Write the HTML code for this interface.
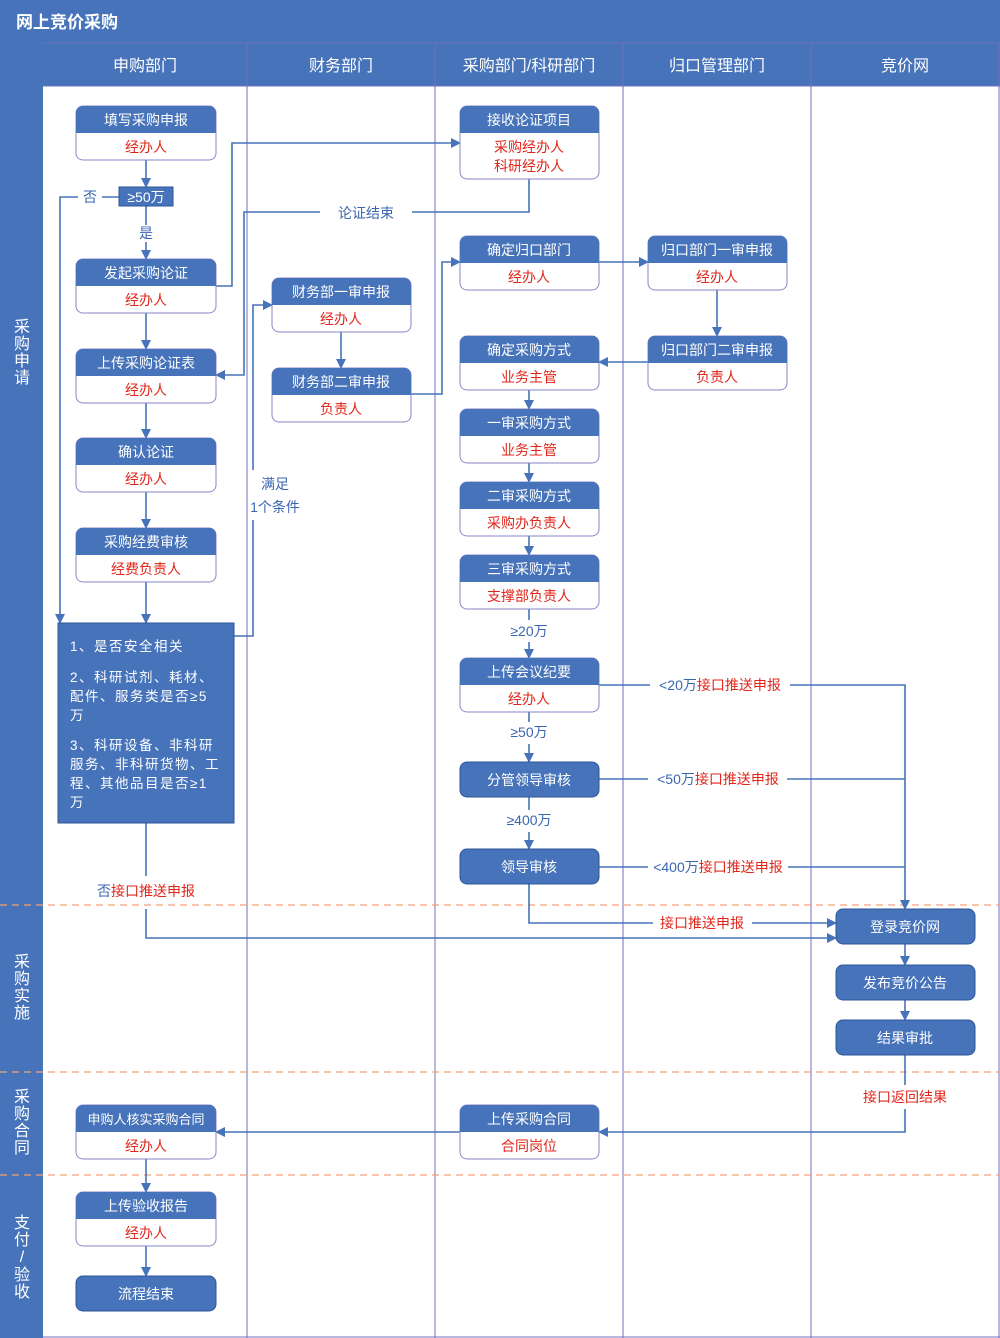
<!DOCTYPE html>
<html><head><meta charset="utf-8"><style>
html,body{margin:0;padding:0;background:#fff}
svg{display:block}
text{font-family:"Liberation Sans","Noto Sans CJK SC",sans-serif}
</style></head><body>
<svg width="1000" height="1338" viewBox="0 0 1000 1338" xmlns="http://www.w3.org/2000/svg">
<defs>
<marker id="a" markerWidth="10" markerHeight="10" refX="9" refY="5" orient="auto" markerUnits="userSpaceOnUse"><path d="M0,0 L10,5 L0,10 z" fill="#4673b9"/></marker>
</defs>
<rect x="0" y="0" width="1000" height="1338" fill="#fff"/>
<rect x="0" y="0" width="1000" height="43" fill="#4673b9"/>
<text x="16" y="28" font-size="17" font-weight="bold" fill="#fff">网上竞价采购</text>
<rect x="0" y="43" width="1000" height="43" fill="#4673b9"/>
<rect x="0" y="43" width="43" height="1295" fill="#4673b9"/>
<g stroke="#6f6fbf" stroke-width="1">
<line x1="43" y1="43" x2="1000" y2="43"/><line x1="43" y1="86" x2="1000" y2="86"/>
<line x1="247" y1="43" x2="247" y2="1338"/><line x1="435" y1="43" x2="435" y2="1338"/>
<line x1="623" y1="43" x2="623" y2="1338"/><line x1="811" y1="43" x2="811" y2="1338"/>
<line x1="999" y1="43" x2="999" y2="1338"/><line x1="43" y1="1337" x2="1000" y2="1337"/>
</g>
<g font-size="16" fill="#fff" text-anchor="middle">
<text x="145" y="71">申购部门</text><text x="341" y="71">财务部门</text><text x="529" y="71">采购部门/科研部门</text><text x="717" y="71">归口管理部门</text><text x="905" y="71">竞价网</text>
</g>
<g stroke="#f4a07a" stroke-width="1.2" stroke-dasharray="7,5">
<line x1="0" y1="905" x2="1000" y2="905"/><line x1="0" y1="1072" x2="1000" y2="1072"/><line x1="0" y1="1175" x2="1000" y2="1175"/>
</g>
<g font-size="16" fill="#fff" text-anchor="middle">
<text x="22" y="332">采</text><text x="22" y="349">购</text><text x="22" y="366">申</text><text x="22" y="383">请</text>
<text x="22" y="967">采</text><text x="22" y="984">购</text><text x="22" y="1001">实</text><text x="22" y="1018">施</text>
<text x="22" y="1102">采</text><text x="22" y="1119">购</text><text x="22" y="1136">合</text><text x="22" y="1153">同</text>
<text x="22" y="1228">支</text><text x="22" y="1245">付</text><text x="22" y="1262">/</text><text x="22" y="1280">验</text><text x="22" y="1297">收</text>
</g>

<!-- connectors -->
<g stroke="#4673b9" stroke-width="1.6" fill="none">
<line x1="146" y1="160" x2="146" y2="187" marker-end="url(#a)"/>
<polyline points="119,197 102,197"/><polyline points="78,197 60,197 60,623" marker-end="url(#a)"/>
<line x1="146" y1="206" x2="146" y2="225"/><line x1="146" y1="242" x2="146" y2="259" marker-end="url(#a)"/>
<polyline points="216,286 232,286 232,143 460,143" marker-end="url(#a)"/>
<polyline points="529,179 529,212 412,212"/><polyline points="320,212 244,212 244,375 216,375" marker-end="url(#a)"/>
<line x1="146" y1="313" x2="146" y2="349" marker-end="url(#a)"/>
<line x1="146" y1="403" x2="146" y2="438" marker-end="url(#a)"/>
<line x1="146" y1="492" x2="146" y2="528" marker-end="url(#a)"/>
<line x1="146" y1="582" x2="146" y2="623" marker-end="url(#a)"/>
<polyline points="234,636 253,636 253,520"/><polyline points="253,470 253,305 272,305" marker-end="url(#a)"/>
<line x1="341" y1="332" x2="341" y2="368" marker-end="url(#a)"/>
<polyline points="411,394 442,394 442,262 460,262" marker-end="url(#a)"/>
<line x1="599" y1="262" x2="648" y2="262" marker-end="url(#a)"/>
<line x1="717" y1="290" x2="717" y2="336" marker-end="url(#a)"/>
<line x1="648" y1="362" x2="599" y2="362" marker-end="url(#a)"/>
<line x1="529" y1="390" x2="529" y2="409" marker-end="url(#a)"/>
<line x1="529" y1="463" x2="529" y2="482" marker-end="url(#a)"/>
<line x1="529" y1="536" x2="529" y2="555" marker-end="url(#a)"/>
<line x1="529" y1="609" x2="529" y2="620"/><line x1="529" y1="642" x2="529" y2="658" marker-end="url(#a)"/>
<line x1="529" y1="712" x2="529" y2="722"/><line x1="529" y1="744" x2="529" y2="762" marker-end="url(#a)"/>
<line x1="529" y1="797" x2="529" y2="810"/><line x1="529" y1="832" x2="529" y2="849" marker-end="url(#a)"/>
<polyline points="599,685 650,685"/><polyline points="790,685 905,685 905,909" marker-end="url(#a)"/>
<polyline points="599,779 648,779"/><polyline points="787,779 905,779"/>
<polyline points="599,867 648,867"/><polyline points="788,867 905,867"/>
<polyline points="529,884 529,923 653,923"/><line x1="752" y1="923" x2="836" y2="923" marker-end="url(#a)"/>
<polyline points="146,823 146,876"/><polyline points="146,909 146,938 836,938" marker-end="url(#a)"/>
<line x1="905" y1="944" x2="905" y2="965" marker-end="url(#a)"/>
<line x1="905" y1="1000" x2="905" y2="1020" marker-end="url(#a)"/>
<polyline points="905,1055 905,1085"/><polyline points="905,1109 905,1132 599,1132" marker-end="url(#a)"/>
<line x1="460" y1="1132" x2="216" y2="1132" marker-end="url(#a)"/>
<line x1="146" y1="1159" x2="146" y2="1192" marker-end="url(#a)"/>
<line x1="146" y1="1246" x2="146" y2="1276" marker-end="url(#a)"/>
</g>

<!-- labels -->
<g font-size="14" fill="#3a66b0" text-anchor="middle">
<text x="90" y="202">否</text><text x="146" y="238">是</text>
<text x="366" y="218">论证结束</text>
<text x="275" y="489">满足</text><text x="275" y="512">1个条件</text>
<text x="529" y="636">≥20万</text><text x="529" y="737">≥50万</text><text x="529" y="825">≥400万</text>
</g>
<g font-size="14" text-anchor="middle">
<text x="720" y="690"><tspan fill="#3a66b0">&lt;20万</tspan><tspan fill="#e0261b">接口推送申报</tspan></text>
<text x="718" y="784"><tspan fill="#3a66b0">&lt;50万</tspan><tspan fill="#e0261b">接口推送申报</tspan></text>
<text x="718" y="872"><tspan fill="#3a66b0">&lt;400万</tspan><tspan fill="#e0261b">接口推送申报</tspan></text>
<text x="702" y="928" fill="#e0261b">接口推送申报</text>
<text x="146" y="896"><tspan fill="#3a66b0">否</tspan><tspan fill="#e0261b">接口推送申报</tspan></text>
<text x="905" y="1102" fill="#e0261b">接口返回结果</text>
</g>

<!-- 50万 decision -->
<rect x="119" y="187" width="54" height="19" fill="#4673b9" stroke="#2f5597" stroke-width="1"/>
<text x="146" y="202" font-size="14" fill="#fff" text-anchor="middle">≥50万</text>

<!-- two-part boxes -->
<g font-size="14" text-anchor="middle">
<!-- template: outer rounded rect, header -->
<g>
<rect x="76" y="106" width="140" height="54" rx="7" fill="#fff" stroke="#8a86c8"/><path d="M76,133 V113 a7,7 0 0 1 7,-7 H209 a7,7 0 0 1 7,7 V133 z" fill="#4673b9"/>
<text x="146" y="125" fill="#fff">填写采购申报</text><text x="146" y="152" fill="#e0261b">经办人</text>
</g>
<g>
<rect x="76" y="259" width="140" height="54" rx="7" fill="#fff" stroke="#8a86c8"/><path d="M76,286 V266 a7,7 0 0 1 7,-7 H209 a7,7 0 0 1 7,7 V286 z" fill="#4673b9"/>
<text x="146" y="278" fill="#fff">发起采购论证</text><text x="146" y="305" fill="#e0261b">经办人</text>
</g>
<g>
<rect x="76" y="349" width="140" height="54" rx="7" fill="#fff" stroke="#8a86c8"/><path d="M76,376 V356 a7,7 0 0 1 7,-7 H209 a7,7 0 0 1 7,7 V376 z" fill="#4673b9"/>
<text x="146" y="368" fill="#fff">上传采购论证表</text><text x="146" y="395" fill="#e0261b">经办人</text>
</g>
<g>
<rect x="76" y="438" width="140" height="54" rx="7" fill="#fff" stroke="#8a86c8"/><path d="M76,465 V445 a7,7 0 0 1 7,-7 H209 a7,7 0 0 1 7,7 V465 z" fill="#4673b9"/>
<text x="146" y="457" fill="#fff">确认论证</text><text x="146" y="484" fill="#e0261b">经办人</text>
</g>
<g>
<rect x="76" y="528" width="140" height="54" rx="7" fill="#fff" stroke="#8a86c8"/><path d="M76,555 V535 a7,7 0 0 1 7,-7 H209 a7,7 0 0 1 7,7 V555 z" fill="#4673b9"/>
<text x="146" y="547" fill="#fff">采购经费审核</text><text x="146" y="574" fill="#e0261b">经费负责人</text>
</g>
<g>
<rect x="76" y="1105" width="140" height="54" rx="7" fill="#fff" stroke="#8a86c8"/><path d="M76,1132 V1112 a7,7 0 0 1 7,-7 H209 a7,7 0 0 1 7,7 V1132 z" fill="#4673b9"/>
<text x="146" y="1124" fill="#fff" font-size="13">申购人核实采购合同</text><text x="146" y="1151" fill="#e0261b">经办人</text>
</g>
<g>
<rect x="76" y="1192" width="140" height="54" rx="7" fill="#fff" stroke="#8a86c8"/><path d="M76,1219 V1199 a7,7 0 0 1 7,-7 H209 a7,7 0 0 1 7,7 V1219 z" fill="#4673b9"/>
<text x="146" y="1211" fill="#fff">上传验收报告</text><text x="146" y="1238" fill="#e0261b">经办人</text>
</g>
<rect x="76" y="1276" width="140" height="35" rx="7" fill="#4673b9" stroke="#2f5597"/>
<text x="146" y="1299" fill="#fff">流程结束</text>

<!-- col2 -->
<g>
<rect x="272" y="278" width="139" height="54" rx="7" fill="#fff" stroke="#8a86c8"/><path d="M272,305 V285 a7,7 0 0 1 7,-7 H404 a7,7 0 0 1 7,7 V305 z" fill="#4673b9"/>
<text x="341" y="297" fill="#fff">财务部一审申报</text><text x="341" y="324" fill="#e0261b">经办人</text>
</g>
<g>
<rect x="272" y="368" width="139" height="54" rx="7" fill="#fff" stroke="#8a86c8"/><path d="M272,395 V375 a7,7 0 0 1 7,-7 H404 a7,7 0 0 1 7,7 V395 z" fill="#4673b9"/>
<text x="341" y="387" fill="#fff">财务部二审申报</text><text x="341" y="414" fill="#e0261b">负责人</text>
</g>

<!-- col3 -->
<g>
<rect x="460" y="106" width="139" height="73" rx="7" fill="#fff" stroke="#8a86c8"/><path d="M460,133 V113 a7,7 0 0 1 7,-7 H592 a7,7 0 0 1 7,7 V133 z" fill="#4673b9"/>
<text x="529" y="125" fill="#fff">接收论证项目</text><text x="529" y="152" fill="#e0261b">采购经办人</text><text x="529" y="171" fill="#e0261b">科研经办人</text>
</g>
<g>
<rect x="460" y="236" width="139" height="54" rx="7" fill="#fff" stroke="#8a86c8"/><path d="M460,263 V243 a7,7 0 0 1 7,-7 H592 a7,7 0 0 1 7,7 V263 z" fill="#4673b9"/>
<text x="529" y="255" fill="#fff">确定归口部门</text><text x="529" y="282" fill="#e0261b">经办人</text>
</g>
<g>
<rect x="460" y="336" width="139" height="54" rx="7" fill="#fff" stroke="#8a86c8"/><path d="M460,363 V343 a7,7 0 0 1 7,-7 H592 a7,7 0 0 1 7,7 V363 z" fill="#4673b9"/>
<text x="529" y="355" fill="#fff">确定采购方式</text><text x="529" y="382" fill="#e0261b">业务主管</text>
</g>
<g>
<rect x="460" y="409" width="139" height="54" rx="7" fill="#fff" stroke="#8a86c8"/><path d="M460,436 V416 a7,7 0 0 1 7,-7 H592 a7,7 0 0 1 7,7 V436 z" fill="#4673b9"/>
<text x="529" y="428" fill="#fff">一审采购方式</text><text x="529" y="455" fill="#e0261b">业务主管</text>
</g>
<g>
<rect x="460" y="482" width="139" height="54" rx="7" fill="#fff" stroke="#8a86c8"/><path d="M460,509 V489 a7,7 0 0 1 7,-7 H592 a7,7 0 0 1 7,7 V509 z" fill="#4673b9"/>
<text x="529" y="501" fill="#fff">二审采购方式</text><text x="529" y="528" fill="#e0261b">采购办负责人</text>
</g>
<g>
<rect x="460" y="555" width="139" height="54" rx="7" fill="#fff" stroke="#8a86c8"/><path d="M460,582 V562 a7,7 0 0 1 7,-7 H592 a7,7 0 0 1 7,7 V582 z" fill="#4673b9"/>
<text x="529" y="574" fill="#fff">三审采购方式</text><text x="529" y="601" fill="#e0261b">支撑部负责人</text>
</g>
<g>
<rect x="460" y="658" width="139" height="54" rx="7" fill="#fff" stroke="#8a86c8"/><path d="M460,685 V665 a7,7 0 0 1 7,-7 H592 a7,7 0 0 1 7,7 V685 z" fill="#4673b9"/>
<text x="529" y="677" fill="#fff">上传会议纪要</text><text x="529" y="704" fill="#e0261b">经办人</text>
</g>
<rect x="460" y="762" width="139" height="35" rx="7" fill="#4673b9" stroke="#2f5597"/>
<text x="529" y="785" fill="#fff">分管领导审核</text>
<rect x="460" y="849" width="139" height="35" rx="7" fill="#4673b9" stroke="#2f5597"/>
<text x="529" y="872" fill="#fff">领导审核</text>
<g>
<rect x="460" y="1105" width="139" height="54" rx="7" fill="#fff" stroke="#8a86c8"/><path d="M460,1132 V1112 a7,7 0 0 1 7,-7 H592 a7,7 0 0 1 7,7 V1132 z" fill="#4673b9"/>
<text x="529" y="1124" fill="#fff">上传采购合同</text><text x="529" y="1151" fill="#e0261b">合同岗位</text>
</g>

<!-- col4 -->
<g>
<rect x="648" y="236" width="139" height="54" rx="7" fill="#fff" stroke="#8a86c8"/><path d="M648,263 V243 a7,7 0 0 1 7,-7 H780 a7,7 0 0 1 7,7 V263 z" fill="#4673b9"/>
<text x="717" y="255" fill="#fff">归口部门一审申报</text><text x="717" y="282" fill="#e0261b">经办人</text>
</g>
<g>
<rect x="648" y="336" width="139" height="54" rx="7" fill="#fff" stroke="#8a86c8"/><path d="M648,363 V343 a7,7 0 0 1 7,-7 H780 a7,7 0 0 1 7,7 V363 z" fill="#4673b9"/>
<text x="717" y="355" fill="#fff">归口部门二审申报</text><text x="717" y="382" fill="#e0261b">负责人</text>
</g>

<!-- col5 -->
<rect x="836" y="909" width="139" height="35" rx="7" fill="#4673b9" stroke="#2f5597"/>
<text x="905" y="932" fill="#fff">登录竞价网</text>
<rect x="836" y="965" width="139" height="35" rx="7" fill="#4673b9" stroke="#2f5597"/>
<text x="905" y="988" fill="#fff">发布竞价公告</text>
<rect x="836" y="1020" width="139" height="35" rx="7" fill="#4673b9" stroke="#2f5597"/>
<text x="905" y="1043" fill="#fff">结果审批</text>
</g>

<!-- big condition box -->
<rect x="58" y="623" width="176" height="200" fill="#4673b9" stroke="#2f5597"/>
<g font-size="13.5" fill="#fff" letter-spacing="1.5">
<text x="70" y="651">1、是否安全相关</text>
<text x="70" y="682">2、科研试剂、耗材、</text>
<text x="70" y="701">配件、服务类是否≥5</text>
<text x="70" y="720">万</text>
<text x="70" y="750">3、科研设备、非科研</text>
<text x="70" y="769">服务、非科研货物、工</text>
<text x="70" y="788">程、其他品目是否≥1</text>
<text x="70" y="807">万</text>
</g>
</svg>
</body></html>
